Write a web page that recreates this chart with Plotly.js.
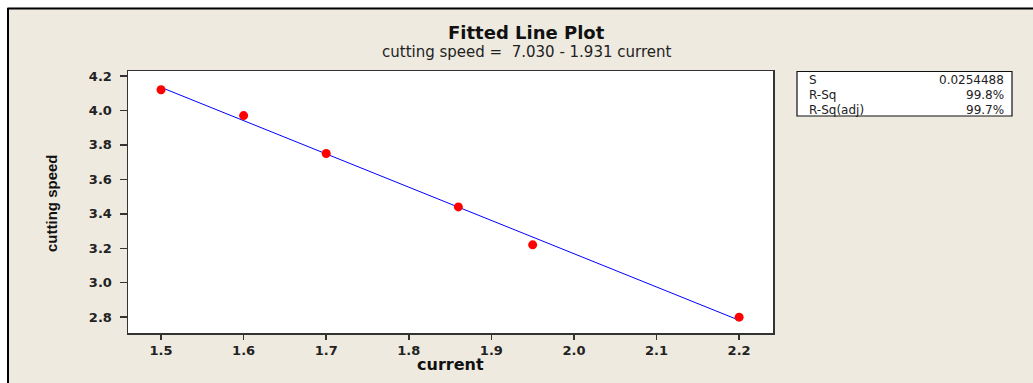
<!DOCTYPE html>
<html>
<head>
<meta charset="utf-8">
<script src="https://cdn.plot.ly/plotly-3.0.1.min.js"></script>
<style>
html,body{margin:0;padding:0;background:#ffffff;}
#chart{width:1033px;height:383px;}
</style>
</head>
<body>
<div id="chart"></div>
<script>
// Data
const current = [1.5, 1.6, 1.7, 1.86, 1.95, 2.2];
const cuttingSpeed = [4.12, 3.97, 3.75, 3.44, 3.22, 2.80];
// Fitted line end points (cutting speed = 7.030 - 1.931 current)
const fitCurrent = [1.5, 2.2];
const fitSpeed = [4.134, 2.782];
const xTicks = [1.5, 1.6, 1.7, 1.8, 1.9, 2.0, 2.1, 2.2];
const yTicks = [2.8, 3.0, 3.2, 3.4, 3.6, 3.8, 4.0, 4.2];
const statLabels = ["S", "R-Sq", "R-Sq(adj)"];
const statValues = ["0.0254488", "99.8%", "99.7%"];
const titleText = "Fitted Line Plot";
const subtitleText = "cutting speed =  7.030 - 1.931 current";

// pixel layout helpers
const W = 1033, H = 383;
const L = 128, R = 773, T = 71, B = 333;
const px = p => (p - L) / (R - L);
const py = p => (B - p) / (B - T);

const BG = "#EEEAE0";
const TXT = "#222222";

const traces = [
  {
    x: fitCurrent, y: fitSpeed, type: "scatter", mode: "lines",
    line: {color: "#0000FF", width: 1}, hoverinfo: "skip", showlegend: false
  },
  {
    x: current, y: cuttingSpeed, type: "scatter", mode: "markers",
    marker: {color: "#FF0000", size: 9, symbol: "circle"}, showlegend: false
  }
];

const annotations = [
  {text: "<b>" + titleText + "</b>", xref: "paper", yref: "paper", x: px(526), y: py(32.5),
   xanchor: "center", yanchor: "middle", showarrow: false,
   font: {family: "DejaVu Sans, sans-serif", size: 18, color: "#111111"}},
  {text: subtitleText, xref: "paper", yref: "paper", x: px(526), y: py(52.5),
   xanchor: "center", yanchor: "middle", showarrow: false,
   font: {family: "DejaVu Sans, sans-serif", size: 15, color: TXT}},
  {text: "<b>current</b>", xref: "paper", yref: "paper", x: px(450.5), y: py(364),
   xanchor: "center", yanchor: "middle", showarrow: false,
   font: {family: "DejaVu Sans, sans-serif", size: 16, color: "#111111"}},
  {text: "<b>cutting speed</b>", xref: "paper", yref: "paper", x: px(51), y: py(203),
   xanchor: "center", yanchor: "middle", showarrow: false, textangle: -90,
   font: {family: "Liberation Sans, Arial, sans-serif", size: 15, color: "#111111"}}
];
const rowsY = [80, 95, 109.5];
for (let i = 0; i < statLabels.length; i++) {
  annotations.push({text: statLabels[i], xref: "paper", yref: "paper", x: px(807), y: py(rowsY[i]),
    xanchor: "left", yanchor: "middle", showarrow: false,
    font: {family: "DejaVu Sans, sans-serif", size: 12, color: TXT}});
  annotations.push({text: statValues[i], xref: "paper", yref: "paper", x: px(1006), y: py(rowsY[i]),
    xanchor: "right", yanchor: "middle", showarrow: false,
    font: {family: "DejaVu Sans, sans-serif", size: 12, color: TXT}});
}

const shapes = [
  // white outer margin above and left of the frame
  {type: "rect", xref: "paper", yref: "paper", x0: px(-5), x1: px(W + 5), y0: py(7.5), y1: py(-5),
   fillcolor: "#ffffff", line: {width: 0}, layer: "above"},
  {type: "rect", xref: "paper", yref: "paper", x0: px(-5), x1: px(7), y0: py(H + 5), y1: py(-5),
   fillcolor: "#ffffff", line: {width: 0}, layer: "above"},
  // black frame lines
  {type: "line", xref: "paper", yref: "paper", x0: px(7.5), x1: px(W + 5), y0: py(8.5), y1: py(8.5),
   line: {color: "#000000", width: 2}, layer: "above"},
  {type: "line", xref: "paper", yref: "paper", x0: px(8), x1: px(8), y0: py(8), y1: py(H + 5),
   line: {color: "#000000", width: 2}, layer: "above"},
  // stats box
  {type: "rect", xref: "paper", yref: "paper", x0: px(797), x1: px(1012), y0: py(116), y1: py(71.5),
   fillcolor: "#ffffff", line: {color: "#111111", width: 1.2}, layer: "above"}
];

const axisCommon = {
  showgrid: false, zeroline: false, showline: true, mirror: true,
  linecolor: "#333333", linewidth: 1.5,
  ticks: "outside", ticklen: 5, tickwidth: 1.5, tickcolor: "#333333",
  tickfont: {family: "DejaVu Sans, sans-serif", size: 13, color: TXT, weight: "bold"},
  tickformat: ".1f", tickmode: "array"
};

const layout = {
  width: W, height: H,
  margin: {l: L, r: W - R, t: T, b: H - B, pad: 0},
  paper_bgcolor: BG, plot_bgcolor: "#ffffff",
  showlegend: false,
  xaxis: Object.assign({}, axisCommon, {range: [1.46, 2.241], tickvals: xTicks}),
  yaxis: Object.assign({}, axisCommon, {range: [2.708, 4.229], tickvals: yTicks, ticklen: 7, ticklabelstandoff: 5}),
  annotations: annotations,
  shapes: shapes
};

Plotly.newPlot("chart", traces, layout, {displayModeBar: false, staticPlot: true});
</script>
</body>
</html>
